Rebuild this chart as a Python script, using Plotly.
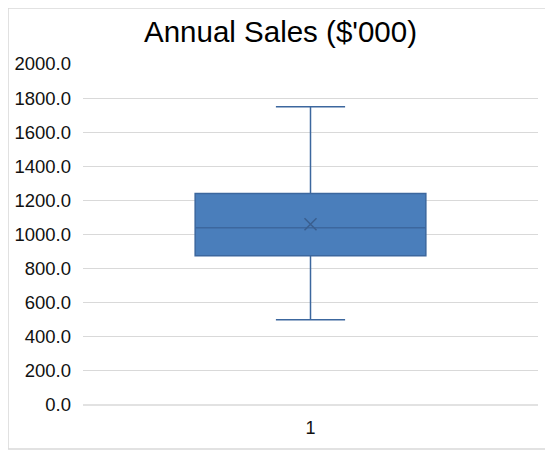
import plotly.graph_objects as go

# box plot summary
categories = [1]
q1 = [875]
median = [1040]
q3 = [1240]
lower_fence = [500]
upper_fence = [1750]
mean = [1060]

y_ticks = [0, 200, 400, 600, 800, 1000, 1200, 1400, 1600, 1800, 2000]

fill = "#4a7ebb"
edge = "#3c679e"

fig = go.Figure()
fig.add_trace(go.Box(
    x=categories,
    q1=q1, median=median, q3=q3,
    lowerfence=lower_fence, upperfence=upper_fence,
    width=0.507,
    whiskerwidth=0.3,
    fillcolor=fill,
    line=dict(color=edge, width=1.5),
    hoverinfo="skip",
    showlegend=False,
))
fig.add_trace(go.Scatter(
    x=categories, y=mean,
    mode="markers",
    marker=dict(symbol="x-thin", size=12, line=dict(color="#3a5f8f", width=1.5)),
    showlegend=False,
))

# page body has an 8px margin, so the figure is a bit smaller than the window
fig.update_layout(
    width=545, height=443,
    margin=dict(l=75, r=15, t=56, b=46),
    paper_bgcolor="white",
    plot_bgcolor="white",
    font=dict(family="Liberation Sans, Arial, sans-serif", color="#000000", size=18),
    title=dict(text="Annual Sales ($'000)", x=0.5, xanchor="center",
               y=0.946, yanchor="middle",
               font=dict(size=29.5, color="#000000")),
    xaxis=dict(range=[0.5, 1.5], tickvals=categories, ticktext=[str(c) for c in categories],
               showgrid=False, zeroline=False, showline=False, ticks="",
               ticklabelstandoff=10, automargin=False,
               tickfont=dict(size=18, color="#111111")),
    yaxis=dict(range=[0, 2000], tickvals=y_ticks, tickformat=".1f",
               showgrid=True, gridcolor="#d9d9d9", gridwidth=1.3,
               zeroline=False, showline=False, ticks="", ticklabelstandoff=11,
               automargin=False,
               tickfont=dict(size=18.5, color="#111111")),
    shapes=[
        dict(type="line", xref="paper", yref="paper", x0=0, x1=1, y0=0, y1=0,
             line=dict(color="#d9d9d9", width=1.3)),
        dict(type="rect", xref="paper", yref="paper",
             x0=-0.1648, x1=1.0286, y0=-0.129, y1=1.164,
             line=dict(color="#d9d9d9", width=1.5)),
    ],
)

fig.write_html("out.html")
